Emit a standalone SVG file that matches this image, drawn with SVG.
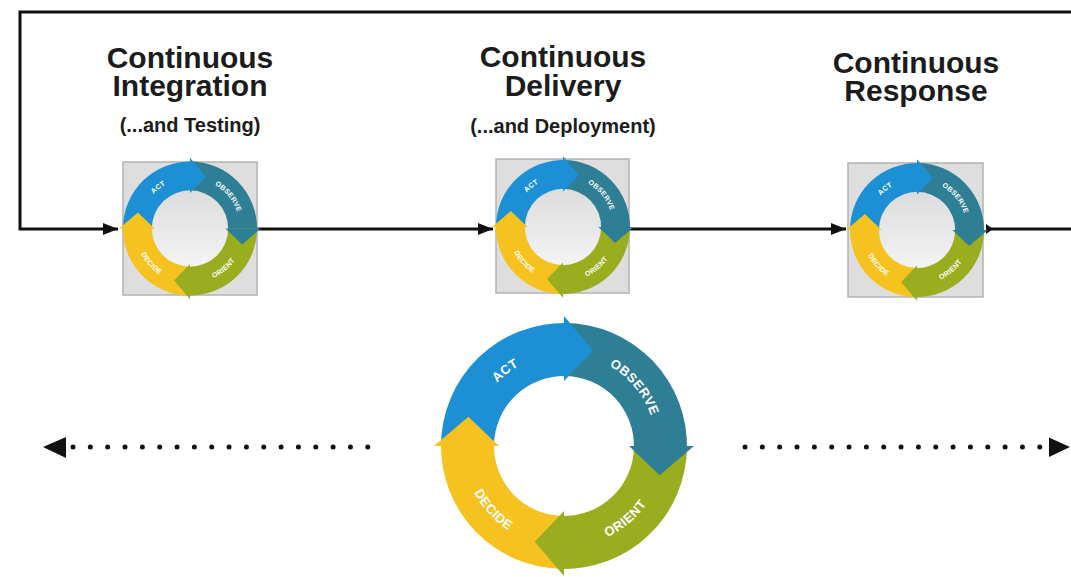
<svg xmlns="http://www.w3.org/2000/svg" xmlns:xlink="http://www.w3.org/1999/xlink" width="1071" height="577" viewBox="0 0 1071 577">
  <style>
    .title { font-family: "Liberation Sans", Arial, sans-serif; font-weight: bold; font-size: 30px; fill: #1c1c1c; text-anchor: middle; }
    .sub { font-family: "Liberation Sans", Arial, sans-serif; font-weight: bold; font-size: 20px; fill: #1c1c1c; text-anchor: middle; }
    .lbl { font-family: "Liberation Sans", Arial, sans-serif; font-weight: bold; font-size: 13px; fill: #ffffff; text-anchor: middle; letter-spacing: 0.5px; }
    .wire { fill: none; stroke: #111111; stroke-width: 3; }
    .dots { fill: none; stroke: #111111; stroke-width: 5; stroke-linecap: round; stroke-dasharray: 0 17.34; }
    .box { fill: #dedede; stroke: #b3b3b3; stroke-width: 1.5; }
    .act { fill: #1c8fd5; }
    .observe { fill: #2e7e95; }
    .orient { fill: #9aad1f; }
    .decide { fill: #f5c21f; }
  </style>
  <defs>
    <marker id="head" markerUnits="userSpaceOnUse" markerWidth="16" markerHeight="14" refX="15" refY="7" orient="auto">
      <path d="M0,1 L15,7 L0,13 Z" fill="#111111"/>
    </marker>
    <linearGradient id="hub" x1="0" y1="0" x2="0" y2="1">
      <stop offset="0" stop-color="#dcdcdc"/>
      <stop offset="1" stop-color="#f4f4f4"/>
    </linearGradient>
    <!-- label baselines: clockwise over the top, counter-clockwise under the bottom -->
    <path id="arc-top" d="M -92 0 A 92 92 0 0 1 92 0"/>
    <path id="arc-bottom" d="M -101 0 A 101 101 0 0 0 101 0"/>
    <!-- OODA ring drawn around (0,0): outer radius 123, inner radius 70 -->
    <g id="ooda-ring">
      <path class="act" d="M -123 0 A 123 123 0 0 1 4.29 -122.93 L 2.44 -69.96 A 70 70 0 0 0 -70 0 Z"/>
      <path class="observe" d="M 0 -123 A 123 123 0 0 1 122.93 4.29 L 69.96 2.44 A 70 70 0 0 0 0 -70 Z"/>
      <path class="orient" d="M 123 0 A 123 123 0 0 1 -4.29 122.93 L -2.44 69.96 A 70 70 0 0 0 70 0 Z"/>
      <path class="decide" d="M 0 123 A 123 123 0 0 1 -122.93 -4.29 L -69.96 -2.44 A 70 70 0 0 0 0 70 Z"/>
      <path class="act" d="M 0 -130 L 29.24 -95.63 L 0 -65 Z"/>
      <path class="observe" d="M 130 0 L 95.63 29.24 L 65 0 Z"/>
      <path class="orient" d="M 0 130 L -29.24 95.63 L 0 65 Z"/>
      <path class="decide" d="M -130 0 L -95.63 -29.24 L -65 0 Z"/>
      <text class="lbl"><textPath href="#arc-top" xlink:href="#arc-top" startOffset="83.5">ACT</textPath></text>
      <text class="lbl"><textPath href="#arc-top" xlink:href="#arc-top" startOffset="224.8">OBSERVE</textPath></text>
      <text class="lbl"><textPath href="#arc-bottom" xlink:href="#arc-bottom" startOffset="229.2">ORIENT</textPath></text>
      <text class="lbl"><textPath href="#arc-bottom" xlink:href="#arc-bottom" startOffset="74">DECIDE</textPath></text>
    </g>
  </defs>

  <rect width="1071" height="577" fill="#ffffff"/>

  <g id="connectors">
    <!-- feedback loop over the top, back into integration -->
    <polyline class="wire" points="1071,12 20,12 20,229 118,229" marker-end="url(#head)"/>
    <line class="wire" x1="257" y1="229" x2="493" y2="229" marker-end="url(#head)"/>
    <line class="wire" x1="630" y1="229" x2="846" y2="229" marker-end="url(#head)"/>
    <line class="wire" x1="986" y1="229" x2="1071" y2="229"/>
    <path d="M986,224 L993,229 L986,234 Z" fill="#111111"/>
    <!-- dotted extents either side of the loop -->
    <line class="dots" x1="73" y1="447" x2="368.5" y2="447"/>
    <path d="M43,447 L66,437 L66,458 Z" fill="#111111"/>
    <line class="dots" x1="745" y1="447" x2="1040.5" y2="447"/>
    <path d="M1070,447 L1049,437.5 L1049,457 Z" fill="#111111"/>
  </g>

  <g id="integration">
    <text class="title" x="190" y="68">Continuous</text>
    <text class="title" x="190" y="96">Integration</text>
    <text class="sub" x="190" y="132">(...and Testing)</text>
    <rect class="box" x="123" y="162" width="134" height="133"/>
    <circle cx="190" cy="228.5" r="39" fill="url(#hub)"/>
    <use href="#ooda-ring" xlink:href="#ooda-ring" transform="translate(190 228.5) scale(0.545)"/>
  </g>

  <g id="delivery">
    <text class="title" x="563" y="67">Continuous</text>
    <text class="title" x="563" y="96">Delivery</text>
    <text class="sub" x="563" y="133">(...and Deployment)</text>
    <rect class="box" x="496" y="159" width="133" height="134"/>
    <circle cx="563" cy="227" r="39" fill="url(#hub)"/>
    <use href="#ooda-ring" xlink:href="#ooda-ring" transform="translate(563 227) scale(0.545)"/>
  </g>

  <g id="response">
    <text class="title" x="916" y="73">Continuous</text>
    <text class="title" x="916" y="101">Response</text>
    <rect class="box" x="848" y="163" width="135" height="134"/>
    <circle cx="917" cy="230" r="39" fill="url(#hub)"/>
    <use href="#ooda-ring" xlink:href="#ooda-ring" transform="translate(917 230) scale(0.545)"/>
  </g>

  <g id="ooda">
    <use href="#ooda-ring" xlink:href="#ooda-ring" transform="translate(564 446)"/>
  </g>
</svg>
